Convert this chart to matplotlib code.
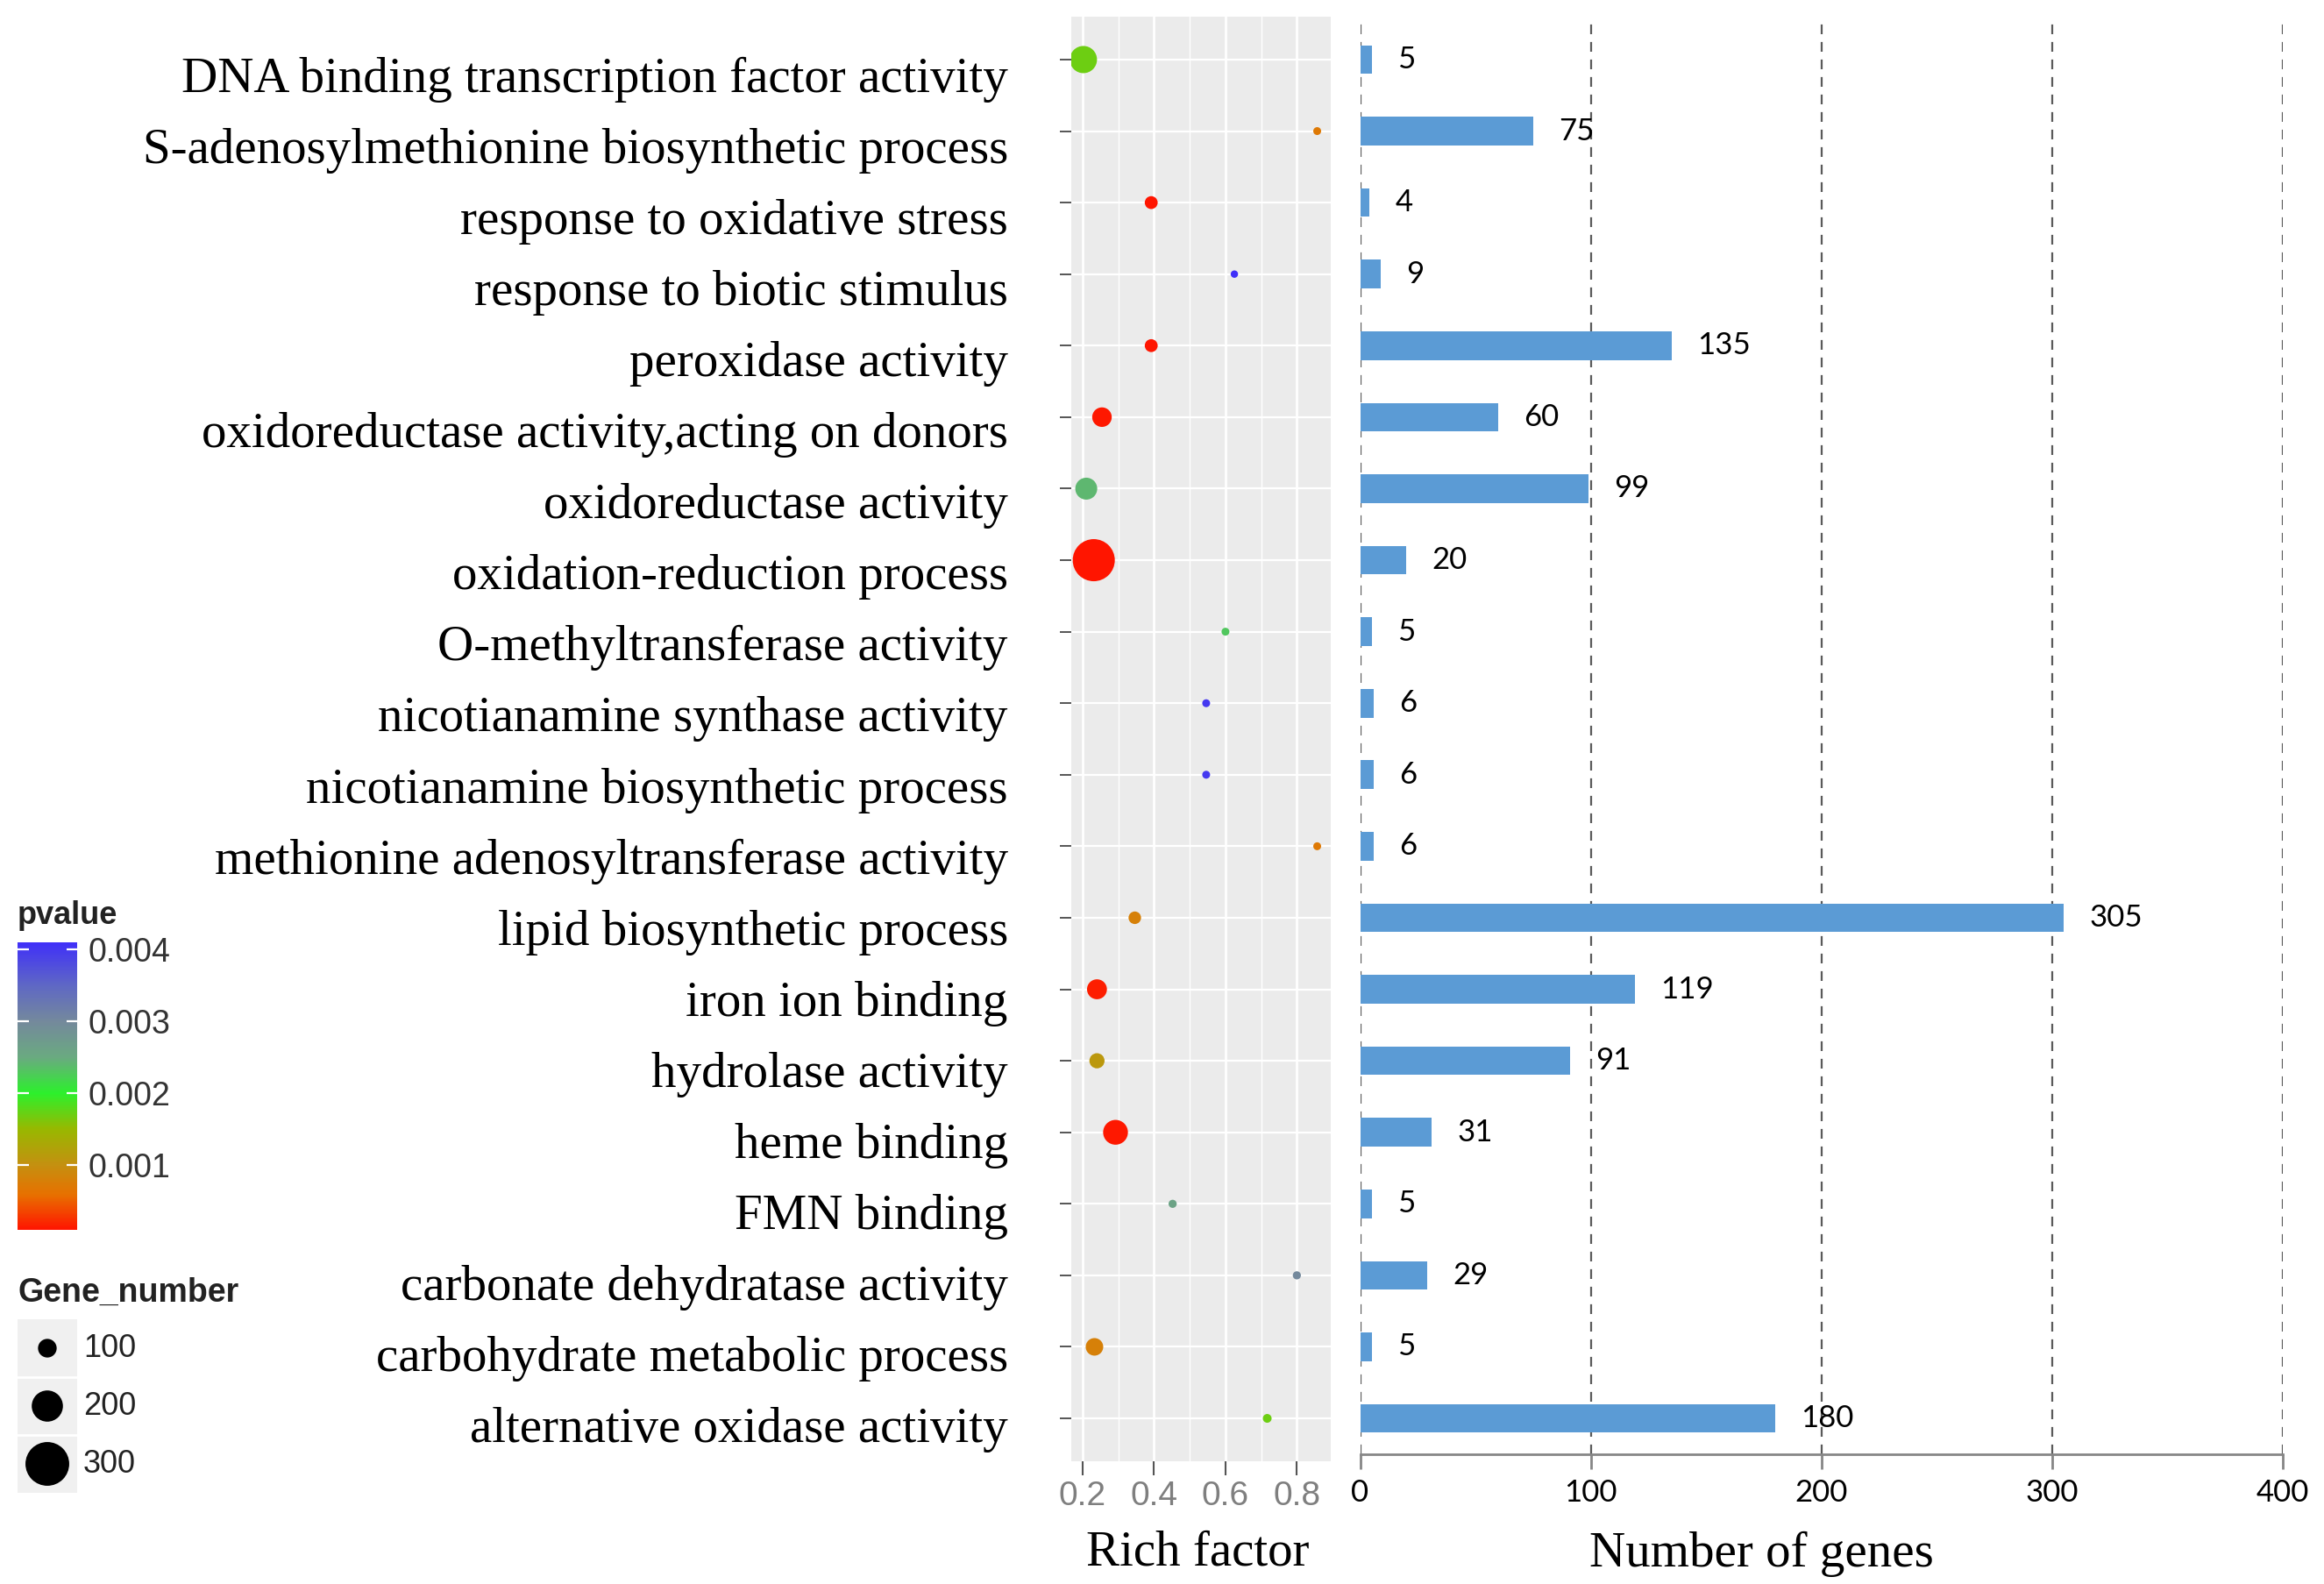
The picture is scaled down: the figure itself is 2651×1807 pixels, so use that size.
import numpy as np
import matplotlib
matplotlib.use("Agg")
import matplotlib.pyplot as plt
from matplotlib.colors import LinearSegmentedColormap, Normalize
from matplotlib.colorbar import ColorbarBase
from matplotlib.transforms import ScaledTranslation, blended_transform_factory

# GO terms, top to bottom
terms = [
    "DNA binding transcription factor activity",
    "S-adenosylmethionine biosynthetic process",
    "response to oxidative stress",
    "response to biotic stimulus",
    "peroxidase activity",
    "oxidoreductase activity,acting on donors",
    "oxidoreductase activity",
    "oxidation-reduction process",
    "O-methyltransferase activity",
    "nicotianamine synthase activity",
    "nicotianamine biosynthetic process",
    "methionine adenosyltransferase activity",
    "lipid biosynthetic process",
    "iron ion binding",
    "hydrolase activity",
    "heme binding",
    "FMN binding",
    "carbonate dehydratase activity",
    "carbohydrate metabolic process",
    "alternative oxidase activity",
]
rich_factor = [0.202, 0.857, 0.392, 0.625, 0.392, 0.254, 0.21, 0.231, 0.6, 0.546,
               0.546, 0.857, 0.346, 0.24, 0.24, 0.292, 0.452, 0.8, 0.233, 0.717]
pvalue = [0.0017, 0.0007, 0.0001, 0.0041, 0.0001, 0.00012, 0.0024, 0.0001, 0.0023, 0.004,
          0.004, 0.0007, 0.0008, 0.00015, 0.0011, 0.00012, 0.0026, 0.003, 0.0008, 0.0017]
gene_number = [168, 14, 54, 10, 54, 107, 126, 287, 14, 14,
               14, 14, 51, 110, 72, 149, 16, 16, 91, 21]
n_genes = [5, 75, 4, 9, 135, 60, 99, 20, 5, 6, 6, 6, 305, 119, 91, 31, 5, 29, 5, 180]

rich_ticks = [0.2, 0.4, 0.6, 0.8]
gene_ticks = [0, 100, 200, 300, 400]
p_ticks = [0.001, 0.002, 0.003, 0.004]
legend_sizes = [100, 200, 300]

SERIF = "Liberation Serif"
SANS = "Liberation Sans"

cmap = LinearSegmentedColormap.from_list("pv", [
    (0.0, "#ff1500"), (0.12, "#e87000"), (0.225, "#c49010"), (0.35, "#98b800"),
    (0.475, "#2cf02c"), (0.6, "#6aaa80"), (0.725, "#74899c"), (0.85, "#5f68c4"),
    (1.0, "#4030f8")])
norm = Normalize(vmin=0.0001, vmax=0.0041)


def dot_area(v):
    d_px = 7 + 0.143 * np.asarray(v, dtype=float)
    return (d_px * 0.72) ** 2


W, H = 2651, 1807
fig = plt.figure(figsize=(W / 100, H / 100), dpi=100)
rows = np.arange(len(terms))
panel = [1222 / W, 1 - 1667 / H, 296 / W, 1648 / H]

# dot panel
ax = fig.add_axes(panel)
ax.set_facecolor("#ebebeb")
ax.set_xlim(0.168, 0.895)
ax.set_ylim(len(terms) - 0.4, -0.6)
for s in ax.spines.values():
    s.set_visible(False)
ax.set_xticks(rich_ticks)
ax.set_xticks([0.3, 0.5, 0.7], minor=True)
ax.set_yticks(rows)
ax.set_yticklabels([])
ax.grid(which="major", axis="x", color="white", lw=2.0)
ax.grid(which="minor", axis="x", color="white", lw=1.0)
ax.grid(which="major", axis="y", color="white", lw=1.6)
ax.set_axisbelow(True)
ax.tick_params(axis="y", length=9.4, width=1.4, color="#555555")
ax.tick_params(axis="x", which="major", length=11.5, width=1.5, color="#555555",
               labelsize=28, labelcolor="#7f7f7f", pad=4)
ax.tick_params(axis="x", which="minor", length=0)
ax.set_xticklabels([f"{t:.1f}" for t in rich_ticks], family=SANS)
ax.scatter(rich_factor, rows, s=dot_area(gene_number), c=pvalue, cmap=cmap, norm=norm,
           edgecolors="none", zorder=3)

# term labels sit on a slightly tighter row pitch than the dots
tax = fig.add_axes(panel)
tax.set_axis_off()
tax.set_ylim(19.666, -0.6675)
lab_tr = blended_transform_factory(tax.transAxes, tax.transData) + \
    ScaledTranslation(-52 / 72, -23 / 72, fig.dpi_scale_trans)
for i, t in enumerate(terms):
    tax.text(0, i, t, transform=lab_tr, ha="right", va="baseline",
             fontsize=41, family=SERIF, color="black")

fig.text(1366 / W, 1 - 1785 / H, "Rich factor", ha="center", va="baseline",
         fontsize=41, family=SERIF)

# bar panel
bx = fig.add_axes([1551.5 / W, 1 - 1658.8 / H, 1052.5 / W, 1631.6 / H])
bx.barh(rows, n_genes, height=0.4, color="#5b9bd5", zorder=3)
bx.set_ylim(len(terms) - 0.5, -0.5)
bx.set_xlim(0, 400)
bx.set_xticks(gene_ticks)
bx.set_yticks([])
for side in ["top", "right", "left"]:
    bx.spines[side].set_visible(False)
bx.spines["bottom"].set_color("#868686")
bx.spines["bottom"].set_linewidth(2)
bx.grid(axis="x", color="#5a5a5a", lw=1.6, linestyle=(0, (5, 4)), zorder=0)
bx.tick_params(axis="x", length=12, width=2, color="#868686", labelsize=25, pad=8)
bx.set_xticklabels([str(t) for t in gene_ticks], family="Lato")
for i, v in enumerate(n_genes):
    bx.annotate(str(v), (v, i), xytext=(21, 0), textcoords="offset points",
                ha="left", va="center", fontsize=25, family="Lato")

fig.text(2009 / W, 1 - 1787 / H, "Number of genes", ha="center", va="baseline",
         fontsize=41, family=SERIF)

# pvalue colour bar
fig.text(20 / W, 1 - 1045 / H, "pvalue", ha="left", va="center", fontsize=26,
         fontweight="bold", family=SANS, color="#222222")
cax = fig.add_axes([20 / W, 1 - 1403 / H, 68 / W, 328 / H])
cb = ColorbarBase(cax, cmap=cmap, norm=norm, orientation="vertical", ticks=p_ticks)
cb.outline.set_visible(False)
cax.tick_params(direction="in", color="white", length=9, width=1.6, left=True, right=True,
                labelsize=27, labelcolor="#333333", pad=9)
cax.set_yticklabels([f"{t:.3f}" for t in p_ticks], family=SANS)

# Gene_number size legend
fig.text(20 / W, 1 - 1475 / H, "Gene_number", ha="left", va="center", fontsize=27,
         fontweight="bold", family=SANS, color="#222222")
lax = fig.add_axes([20 / W, 1 - 1703 / H, 68 / W, 198 / H])
lax.set_facecolor("#f0f0f0")
lax.set_xlim(0, 1)
lax.set_ylim(len(legend_sizes), 0)
for s in lax.spines.values():
    s.set_visible(False)
lax.set_xticks([])
lax.set_yticks([])
for k in range(1, len(legend_sizes)):
    lax.axhline(k, color="white", lw=2)
lrows = np.arange(len(legend_sizes)) + 0.5
lax.scatter([0.5] * len(legend_sizes), lrows, s=dot_area(legend_sizes), color="black",
            edgecolors="none", zorder=3)
for r, v in zip(lrows, legend_sizes):
    lax.text(1.1, r, str(v), transform=blended_transform_factory(lax.transAxes, lax.transData),
             ha="left", va="center", fontsize=26, family=SANS, color="#222222")

fig.savefig("out.png", dpi=100, facecolor="white")
